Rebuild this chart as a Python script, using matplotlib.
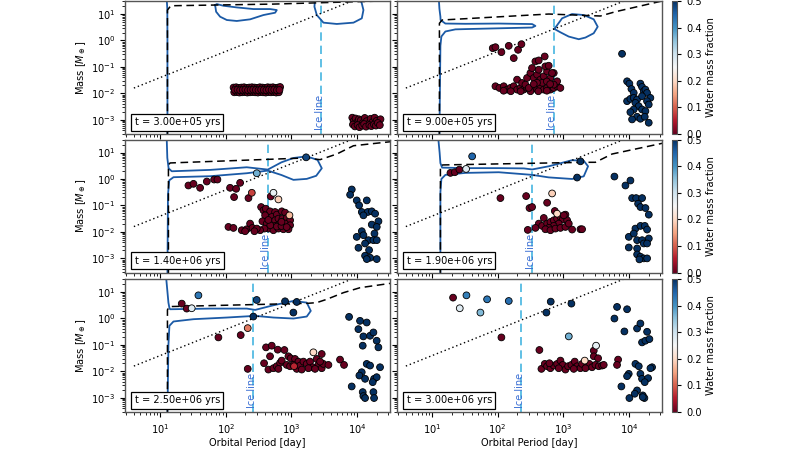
import numpy as np
import matplotlib
matplotlib.use("Agg")
import matplotlib.pyplot as plt
from matplotlib.colors import Normalize
from matplotlib.cm import ScalarMappable

# ---- data (log10 of period [day] and mass [M_earth]) ----
times = ["t = 3.00e+05 yrs", "t = 9.00e+05 yrs", "t = 1.40e+06 yrs",
         "t = 1.90e+06 yrs", "t = 2.50e+06 yrs", "t = 3.00e+06 yrs"]
ice_lp = [3.455, 2.855, 2.642, 2.525, 2.423, 2.362]
dot_lp = [0.60, 4.51]
dot_lm = [-1.80, 2.07]

# panel 1
p1_dry_lp = [2.12, 2.16, 2.20, 2.24, 2.28, 2.32, 2.36, 2.40, 2.44, 2.48, 2.52, 2.56, 2.60, 2.64, 2.68, 2.72, 2.76, 2.80, 2.83,
             2.13, 2.17, 2.21, 2.25, 2.29, 2.33, 2.37, 2.41, 2.45, 2.49, 2.53, 2.57, 2.61, 2.65, 2.69, 2.73, 2.77, 2.81,
             2.14, 2.18, 2.22, 2.26, 2.30, 2.34, 2.38, 2.42, 2.46, 2.50, 2.54, 2.58, 2.62, 2.66, 2.70, 2.74, 2.78, 2.82,
             3.93, 3.95, 3.98, 4.00, 4.03, 4.06, 4.09, 4.12, 4.15, 4.18, 4.21, 4.24, 4.27, 4.30, 4.33, 4.36,
             3.94, 3.97, 4.01, 4.04, 4.08, 4.11, 4.14, 4.19, 4.22, 4.26, 4.29, 4.32, 4.35]
p1_dry_lm = [-1.78, -1.77, -1.79, -1.78, -1.77, -1.79, -1.78, -1.77, -1.78, -1.79, -1.77, -1.78, -1.79, -1.77, -1.78, -1.77, -1.79, -1.78, -1.76,
             -1.96, -1.95, -1.97, -1.96, -1.95, -1.97, -1.96, -1.95, -1.96, -1.97, -1.95, -1.96, -1.97, -1.95, -1.96, -1.95, -1.97, -1.96,
             -1.87, -1.86, -1.88, -1.87, -1.86, -1.88, -1.87, -1.86, -1.87, -1.88, -1.86, -1.87, -1.88, -1.86, -1.87, -1.86, -1.88, -1.87,
             -2.92, -3.05, -2.95, -3.10, -2.98, -3.02, -3.12, -2.93, -3.05, -3.15, -2.96, -3.08, -2.92, -3.04, -3.14, -2.98,
             -3.18, -3.25, -3.20, -3.28, -3.22, -3.16, -3.26, -3.20, -3.24, -3.18, -3.22, -3.12, -3.20]

# panel 2
p2_dry_lp = [1.925, 1.966, 2.057, 2.169, 2.245, 2.311, 2.362,
             1.966, 2.026, 2.093, 2.143, 2.194, 2.245, 2.296, 2.347, 2.397, 2.448, 2.499, 2.550, 2.601, 2.651,
             2.702, 2.753, 2.804, 2.855, 2.906, 2.956, 2.09, 2.20, 2.35, 2.50, 2.62, 2.75,
             2.296, 2.372, 2.448, 2.499, 2.550, 2.601, 2.651, 2.702, 2.753, 2.804, 2.855, 2.906, 2.524, 2.626,
             2.727, 2.829, 2.575, 2.626, 2.717, 2.778, 2.855, 2.423, 2.474, 2.68, 2.75, 2.60, 2.55, 2.80]
p2_dry_lm = [-0.291, -0.254, -0.442, -0.203, -0.667, -0.354, -0.141,
             -1.732, -1.795, -1.732, -1.858, -1.795, -1.732, -1.858, -1.795, -1.858, -1.795, -1.858, -1.795, -1.858, -1.795,
             -1.858, -1.795, -1.858, -1.795, -1.732, -1.795, -1.90, -1.92, -1.92, -1.92, -1.92, -1.90,
             -1.482, -1.607, -1.419, -1.231, -1.419, -1.294, -1.482, -1.356, -1.168, -1.419, -1.231, -1.544, -1.043, -1.106,
             -0.980, -1.231, -0.792, -0.755, -0.605, -0.955, -1.670, -1.670, -1.795, -1.60, -1.55, -1.60, -1.65, -1.65]
p2_wet_lp = [3.896, 3.973, 4.008, 4.039, 4.074, 4.176, 4.201, 4.227, 4.252, 4.277, 4.328, 3.973, 4.023, 4.074,
             4.125, 4.100, 4.201, 4.277, 4.303, 4.150, 4.074, 4.023, 4.201, 4.252, 4.125, 4.176, 4.049, 4.303, 4.242]
p2_wet_lm = [-0.504, -1.544, -1.632, -1.833, -1.983, -1.632, -1.757, -1.920, -1.858, -1.983, -2.171, -2.296, -2.209, -2.171,
             -2.234, -2.359, -2.108, -2.296, -2.422, -2.484, -2.610, -2.710, -2.610, -2.672, -2.885, -2.960, -2.985, -3.111, -2.885]

# panel 3
p3_dry_lp = [1.432, 1.509, 1.610, 1.712, 1.824, 1.874, 2.067, 2.159, 2.220, 2.128, 2.347, 2.687,
             2.540, 2.576, 2.611, 2.677, 2.753, 2.601, 2.703, 2.779, 2.855, 2.906, 2.560, 2.626, 2.703, 2.753,
             2.804, 2.865, 2.931, 2.982, 2.830, 2.906, 2.982, 2.753, 2.652, 2.728, 2.804, 2.880, 2.957, 2.591,
             2.525, 2.042, 2.118, 2.245, 2.321, 2.372, 2.408, 2.474, 2.296, 2.438, 2.68, 2.78, 2.85, 2.93, 2.65, 2.85]
p3_dry_lm = [-0.246, -0.184, -0.334, -0.096, -0.021, -0.021, -0.334, -0.372, -0.146, -0.685, -0.723, -0.660,
             -1.061, -1.186, -1.124, -1.224, -1.249, -1.374, -1.437, -1.349, -1.224, -1.274, -1.600, -1.688, -1.625, -1.562,
             -1.500, -1.500, -1.475, -1.562, -1.688, -1.688, -1.750, -1.775, -1.876, -1.938, -1.876, -1.901, -1.901, -1.876,
             -1.938, -1.813, -1.851, -1.938, -1.901, -1.688, -1.851, -1.876, -1.976, -1.976, -1.75, -1.80, -1.78, -1.82, -1.55, -1.62]
p3_mix_lp = [2.398, 2.474, 2.728, 2.804, 3.226, 2.972]
p3_mix_lm = [-0.522, 0.217, -0.522, -0.773, 0.819, -1.374]
p3_mix_w = [0.08, 0.37, 0.27, 0.19, 0.48, 0.17]
p3_wet_lp = [3.922, 3.897, 3.998, 4.151, 4.034, 4.075, 4.166, 4.227, 4.278, 4.100, 4.329, 4.227, 4.303, 4.268,
             4.075, 3.998, 4.100, 4.176, 4.252, 4.303, 4.125, 4.024, 4.186, 4.125, 4.202, 4.303, 4.151]
p3_wet_lm = [-0.397, -0.597, -0.810, -0.810, -0.998, -1.249, -1.249, -1.224, -1.312, -1.374, -1.600, -1.725, -1.813, -2.064,
             -1.976, -2.189, -2.126, -2.314, -2.314, -2.314, -2.440, -2.602, -2.690, -2.903, -2.978, -3.029, -3.029]

# panel 4
p4_dry_lp = [1.280, 1.346, 1.417, 2.042, 2.434, 2.754, 2.485, 2.525, 2.871,
             2.703, 2.627, 2.576, 2.678, 2.754, 2.805, 2.855, 2.906, 2.957, 3.033, 2.993, 3.059, 2.932,
             2.855, 2.779, 2.728, 2.805, 2.881, 2.957, 3.033, 3.084, 3.135, 3.262, 3.287, 2.459, 3.008]
p4_dry_lm = [0.230, 0.255, 0.355, -0.723, -0.647, -0.898, -1.099, -1.061, -1.211,
             -1.475, -1.688, -1.850, -1.775, -1.688, -1.625, -1.562, -1.500, -1.437, -1.349, -1.525, -1.562, -1.688,
             -1.775, -1.850, -1.901, -1.938, -1.876, -1.850, -1.813, -1.688, -1.913, -1.901, -1.901, -1.926, -1.374]
p4_mix_lp = [1.611, 1.519, 3.262, 3.211, 2.830, 2.906]
p4_mix_lm = [0.856, 0.380, 0.668, 0.054, -0.547, -1.312]
p4_mix_w = [0.45, 0.28, 0.50, 0.50, 0.19, 0.20]
p4_wet_lp = [3.780, 3.948, 4.024, 4.050, 4.111, 4.202, 4.141, 4.177, 4.253, 4.304, 4.100, 4.177, 4.243, 4.278,
             3.999, 4.075, 4.126, 4.202, 4.304, 3.999, 4.126, 4.227, 4.278, 4.126, 4.177, 4.227, 4.278, 4.161]
p4_wet_lm = [0.092, -0.246, -0.058, -0.723, -0.723, -0.723, -0.936, -1.061, -1.099, -1.349, -1.876, -1.775, -1.775, -1.913,
             -2.189, -2.063, -2.314, -2.314, -2.251, -2.590, -2.627, -2.439, -2.439, -2.853, -2.941, -3.003, -3.003, -3.041]

# panel 5
p5_dry_lp = [1.330, 1.406, 1.889, 2.229, 2.336,
             2.615, 2.702, 2.793, 2.895, 2.676, 2.585, 2.651, 2.727, 2.778, 2.829, 2.803, 2.854, 2.956, 2.991,
             3.057, 3.108, 2.930, 2.981, 3.032, 3.083, 3.134, 3.185, 3.235, 3.286, 3.388, 3.464, 3.413, 3.327,
             3.261, 3.362, 3.464, 3.489, 3.566, 3.743, 3.804, 3.159, 3.439]
p5_dry_lm = [0.562, 0.374, -0.716, -0.628, -1.906,
             -1.092, -1.029, -1.180, -1.192, -1.430, -1.693, -1.932, -1.881, -1.806, -1.681, -1.906, -1.593, -1.430, -1.505,
             -1.531, -1.631, -1.756, -1.806, -1.756, -1.906, -1.781, -1.631, -1.718, -1.631, -1.531, -1.343, -1.756, -1.844,
             -1.881, -1.906, -1.881, -1.718, -1.756, -1.556, -1.756, -1.932, -1.631]
p5_mix_lp = [1.482, 1.584, 2.336, 2.473, 2.905, 3.083, 3.032, 2.422, 3.337, 3.042]
p5_mix_lm = [0.387, 0.875, -0.365, 0.700, 0.650, 0.625, 0.224, 0.073, -1.280, -1.806]
p5_mix_w = [0.28, 0.43, 0.12, 0.48, 0.50, 0.50, 0.50, 0.50, 0.20, 0.06]
p5_wet_lp = [3.881, 4.048, 4.150, 4.023, 4.099, 4.201, 4.252, 4.302, 4.328, 4.089, 4.150, 4.201, 4.353,
             4.074, 4.038, 4.125, 4.262, 4.302, 4.241, 3.921, 4.089, 4.099, 4.252, 4.125, 4.262]
p5_wet_lm = [0.061, -0.089, -0.152, -0.403, -0.678, -0.653, -0.528, -0.841, -1.092, -1.029, -1.718, -1.781, -1.844,
             -2.032, -2.157, -2.282, -2.282, -2.220, -2.408, -2.571, -2.784, -2.934, -2.784, -3.009, -3.009]

# panel 6
p6_dry_lp = [1.320, 2.057, 2.636, 3.465, 3.465, 3.531, 3.836, 3.820,
             2.667, 2.718, 2.753, 2.804, 2.855, 2.906, 2.957, 2.992, 3.033, 3.073, 3.124, 3.175, 3.211,
             3.261, 3.287, 3.363, 3.399, 3.439, 3.490, 3.541, 3.592, 3.617, 3.338, 3.160, 2.931, 2.789]
p6_dry_lm = [0.788, -0.716, -1.192, -1.217, -1.430, -1.505, -1.556, -1.756,
             -1.906, -1.718, -1.806, -1.881, -1.781, -1.718, -1.593, -1.756, -1.932, -1.806, -1.756, -1.631, -1.806,
             -1.881, -1.718, -1.806, -1.718, -1.844, -1.756, -1.806, -1.781, -1.756, -1.881, -1.906, -1.881, -1.693]
p6_mix_lp = [1.524, 1.422, 1.737, 1.839, 2.169, 2.809, 3.124, 2.743, 3.084, 3.500, 3.327]
p6_mix_lm = [0.875, 0.387, 0.224, 0.725, 0.662, 0.637, 0.562, 0.224, -0.678, -1.029, -1.593]
p6_mix_w = [0.42, 0.28, 0.36, 0.43, 0.44, 0.50, 0.50, 0.50, 0.37, 0.27, 0.20]
p6_wet_lp = [3.820, 3.973, 3.780, 3.932, 4.125, 4.176, 4.278, 4.201, 4.252, 4.313, 4.100, 4.151, 4.354, 4.329,
             3.998, 3.973, 4.176, 4.201, 4.293, 4.242, 3.886, 4.125, 4.090, 4.008, 4.212, 4.237, 4.212]
p6_wet_lm = [0.437, 0.349, -0.002, -0.490, -0.378, -0.190, -0.503, -0.904, -0.841, -0.779, -1.718, -1.806, -1.844, -1.881,
             -2.094, -2.182, -2.094, -2.282, -2.257, -2.408, -2.571, -2.721, -2.846, -3.009, -2.909, -3.009, -2.972]

# contours of the migration map (solid blue) and the gas giant track (dashed)
p1_blue = [[(1.10, 1.60), (1.11, 1.20), (1.112, 0.0), (1.112, -3.6)],
           [(1.839, 1.338), (1.854, 1.087), (1.915, 0.899), (2.017, 0.774), (2.169, 0.737), (2.372, 0.799),
            (2.576, 0.962), (2.754, 1.050), (2.779, 1.150), (2.677, 1.188), (2.423, 1.188), (2.169, 1.250),
            (1.966, 1.313), (1.864, 1.376), (1.839, 1.338)],
           [(3.363, 1.60), (3.353, 1.275), (3.389, 0.962), (3.490, 0.674), (3.694, 0.624), (3.948, 0.674),
            (4.075, 0.837), (4.100, 1.150), (4.075, 1.401), (4.049, 1.60)]]
p1_dash = [(1.112, -3.6), (1.112, 1.15), (1.163, 1.313), (2.728, 1.376), (3.947, 1.463), (4.506, 1.50)]

p2_blue = [[(1.102, 1.6), (1.112, 1.2), (1.127, 0.9), (1.13, 0.77), (1.203, 0.64), (1.508, 0.63), (2.016, 0.64),
            (2.525, 0.62), (2.575, 0.55), (2.525, 0.49), (2.016, 0.46), (1.508, 0.43), (1.356, 0.42), (1.203, 0.34),
            (1.142, 0.15), (1.127, -0.2), (1.112, -3.6)],
           [(2.865, 0.436), (2.982, 0.837), (3.134, 1.0), (3.312, 0.962), (3.464, 0.80), (3.525, 0.52), (3.464, 0.273),
            (3.338, 0.11), (3.236, 0.047), (3.083, 0.148), (2.956, 0.31), (2.865, 0.436)]]
p2_dash = [(1.112, -3.6), (1.112, 0.65), (1.153, 0.774), (2.779, 1.0), (3.566, 0.925), (3.795, 1.087), (4.455, 1.463), (4.6, 1.55)]

p3_blue = [[(1.10, 1.6), (1.11, 0.8), (1.13, 0.40), (1.178, 0.292), (1.763, 0.343), (2.321, 0.443), (2.642, 0.355),
            (2.85, 0.63), (3.033, 0.794), (3.236, 0.856), (3.40, 0.72), (3.465, 0.405), (3.38, 0.12), (3.236, 0.004),
            (3.033, -0.033), (2.85, 0.15), (2.642, 0.317), (2.321, 0.217), (1.763, 0.105), (1.204, 0.067),
            (1.14, -0.05), (1.12, -0.6), (1.112, -3.6)]]
p3_dash = [(1.127, -3.6), (1.127, 0.531), (1.153, 0.606), (3.211, 0.794), (3.439, 0.731), (3.694, 0.944), (3.948, 1.257), (4.506, 1.408)]

p4_blue = [[(1.092, 1.6), (1.115, 1.0), (1.127, 0.6), (1.153, 0.43), (1.508, 0.41), (2.016, 0.41), (2.40, 0.40),
            (2.525, 0.36), (2.779, 0.48), (3.134, 0.71), (3.312, 0.69), (3.378, 0.48), (3.312, 0.10), (3.134, 0.0),
            (2.779, 0.06), (2.525, 0.155), (2.016, 0.255), (1.508, 0.23), (1.203, 0.155), (1.142, 0.0),
            (1.127, -0.5), (1.127, -3.6)]]
p4_dash = [(1.127, -3.6), (1.127, 0.5), (1.165, 0.531), (3.338, 0.631), (3.490, 0.631), (3.744, 0.944), (4.455, 1.32), (4.6, 1.4)]

p5_blue = [[(1.092, 1.55), (1.127, 0.6), (1.142, 0.40), (1.153, 0.349), (1.763, 0.374), (2.322, 0.374), (2.449, 0.324),
            (2.728, 0.50), (3.033, 0.663), (3.236, 0.60), (3.297, 0.287), (3.236, 0.074), (3.033, -0.002),
            (2.728, 0.036), (2.449, 0.099), (2.017, 0.036), (1.509, -0.027), (1.204, -0.114), (1.142, -0.277),
            (1.127, -1.0), (1.112, -3.6)]]
p5_dash = [(1.112, -3.6), (1.112, 0.324), (1.142, 0.450), (3.262, 0.575), (3.389, 0.600), (3.541, 0.725),
           (3.795, 0.976), (4.049, 1.164), (4.506, 1.327)]

panels = [
    dict(dry=(p1_dry_lp, p1_dry_lm), wet=None, mix=None, blue=p1_blue, dash=p1_dash),
    dict(dry=(p2_dry_lp, p2_dry_lm), wet=(p2_wet_lp, p2_wet_lm), mix=None, blue=p2_blue, dash=p2_dash),
    dict(dry=(p3_dry_lp, p3_dry_lm), wet=(p3_wet_lp, p3_wet_lm), mix=(p3_mix_lp, p3_mix_lm, p3_mix_w), blue=p3_blue, dash=p3_dash),
    dict(dry=(p4_dry_lp, p4_dry_lm), wet=(p4_wet_lp, p4_wet_lm), mix=(p4_mix_lp, p4_mix_lm, p4_mix_w), blue=p4_blue, dash=p4_dash),
    dict(dry=(p5_dry_lp, p5_dry_lm), wet=(p5_wet_lp, p5_wet_lm), mix=(p5_mix_lp, p5_mix_lm, p5_mix_w), blue=p5_blue, dash=p5_dash),
    dict(dry=(p6_dry_lp, p6_dry_lm), wet=(p6_wet_lp, p6_wet_lm), mix=(p6_mix_lp, p6_mix_lm, p6_mix_w), blue=[], dash=None),
]


def lg(a):
    return np.power(10.0, np.asarray(a, dtype=float))


FS = 7.1
cmap = plt.get_cmap("RdBu")
norm = Normalize(vmin=0.0, vmax=0.5)

fig = plt.figure(figsize=(8.03, 4.5), dpi=100)
col_x = [0.1557, 0.4944]
row_y = [0.7022, 0.3944, 0.0844]
w, h = 0.330, 0.2955

for i, pan in enumerate(panels):
    r, c = divmod(i, 2)
    ax = fig.add_axes([col_x[c], row_y[r], w, h])
    ax.set_xscale("log")
    ax.set_yscale("log")

    for path in pan["blue"]:
        pp = np.array(path)
        ax.plot(lg(pp[:, 0]), lg(pp[:, 1]), color="#1b5aa6", lw=1.3, zorder=2)
    if pan["dash"] is not None:
        dd = np.array(pan["dash"])
        ax.plot(lg(dd[:, 0]), lg(dd[:, 1]), color="black", lw=1.1, ls=(0, (5, 3)), zorder=2)
    ax.plot(lg(dot_lp), lg(dot_lm), color="black", lw=1.0, ls=(0, (1, 2)), zorder=2)

    xi = 10 ** ice_lp[i]
    ax.axvline(xi, color="#45b5e0", lw=1.2, ls=(0, (5, 3)), zorder=1)
    ax.text(xi / 1.05, 0.03, "Ice line", rotation=90, ha="center", va="bottom",
            color="#3b6fd4", fontsize=FS, transform=ax.get_xaxis_transform())

    kw = dict(s=24, cmap=cmap, norm=norm, edgecolors="black", linewidths=0.6, zorder=3)
    lp, lm = pan["dry"]
    ax.scatter(lg(lp), lg(lm), c=np.zeros(len(lp)), **kw)
    if pan["wet"] is not None:
        lp, lm = pan["wet"]
        ax.scatter(lg(lp), lg(lm), c=np.full(len(lp), 0.5), **kw)
    if pan["mix"] is not None:
        lp, lm, wf = pan["mix"]
        ax.scatter(lg(lp), lg(lm), c=wf, **kw)

    ax.text(0.036, 0.05, times[i], transform=ax.transAxes, fontsize=FS, ha="left", va="bottom",
            bbox=dict(boxstyle="square,pad=0.35", fc="white", ec="black", lw=0.9), zorder=5)

    ax.set_xlim(2.92, 3.2e4)
    ax.set_ylim(2.9e-4, 31)
    ax.tick_params(labelsize=FS, length=3.5, width=0.8, direction="out")
    ax.tick_params(which="minor", length=2, width=0.6)
    for s in ax.spines.values():
        s.set_color("#555555")
        s.set_linewidth(1.0)
    if c == 0:
        ax.set_ylabel(r"Mass [$M_\oplus$]", fontsize=FS, labelpad=2)
    else:
        ax.tick_params(labelleft=False)
    if r == 2:
        ax.set_xlabel("Orbital Period [day]", fontsize=FS, labelpad=2)
    else:
        ax.tick_params(labelbottom=False)

    if c == 1:
        cax = fig.add_axes([0.8369, row_y[r], 0.0062, h])
        cb = fig.colorbar(ScalarMappable(norm=norm, cmap=cmap), cax=cax)
        cb.set_ticks([0.0, 0.1, 0.2, 0.3, 0.4, 0.5])
        cb.ax.tick_params(labelsize=FS, length=3, width=0.8)
        cb.outline.set_edgecolor("#555555")
        cb.set_label("Water mass fraction", fontsize=FS, labelpad=3)

fig.savefig("out.png", dpi=100)
